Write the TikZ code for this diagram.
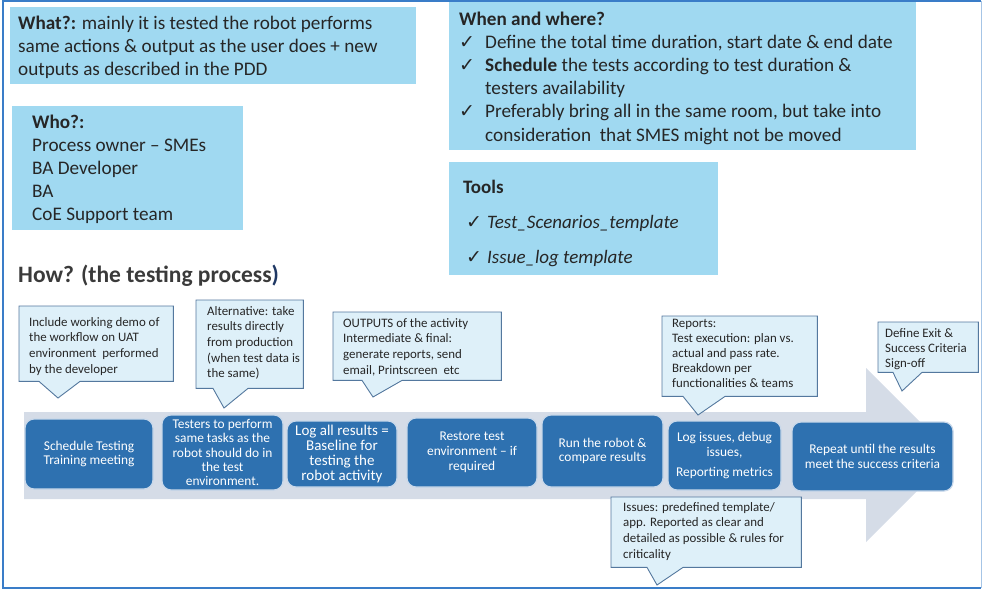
\documentclass[tikz,border=0pt]{standalone}
\usepackage{fontspec}
\setmainfont{Carlito}
\newfontfamily\symfont{DejaVu Sans}
\usetikzlibrary{calc}

\definecolor{panel}{RGB}{160,217,241}
\definecolor{notefill}{RGB}{222,240,249}
\definecolor{noteline}{RGB}{84,120,158}
\definecolor{stepfill}{RGB}{46,113,176}
\definecolor{stepline}{RGB}{200,216,234}
\definecolor{flow}{RGB}{213,220,231}
\definecolor{framecol}{RGB}{58,125,200}
\definecolor{ink}{RGB}{38,38,38}
\definecolor{titlegray}{RGB}{58,58,58}
\definecolor{navy}{RGB}{31,56,100}

% left-aligned block whose baseline is its first line
\newcommand\rows[1]{\begin{tabular}[t]{@{}l@{}}#1\end{tabular}}
\newcommand\tick[1]{\makebox[#1][l]{\symfont\bfseries\fontsize{19}{19}\selectfont ✓}}
\newcommand\ntsize{\fontsize{12.9}{15.7}\selectfont}
\newcommand\bigsize{\fontsize{19.2}{23}\selectfont}

\begin{document}
\begin{tikzpicture}[x=1pt,y=-1pt,
  panelbox/.style={fill=panel,draw=none,inner sep=0,anchor=north west},
  holder/.style={inner sep=0,anchor=north west},
  txt/.style={inner sep=0,anchor=base west,text=ink},
  stepbox/.style={fill=stepfill,draw=stepline,line width=1.2pt,rounded corners=9pt,
    text=white,align=center,inner sep=2pt,font=\fontsize{13.4}{14.8}\selectfont},
  note/.style={fill=notefill,draw=noteline,line width=0.9pt,line join=miter}]
\useasboundingbox (0,0) rectangle (983,590);

% ---------- top information panels ----------
\node[panelbox,minimum width=406,minimum height=77] (what) at (10,7) {};
\node[txt,font=\bigsize] (whatT) at (18,29)
  {\rows{\textbf{What?:} mainly it is tested the robot performs\\
   same actions \& output as the user does + new\\
   outputs as described in the PDD}};

\node[panelbox,minimum width=231,minimum height=124] (who) at (12,106) {};
\node[txt,font=\bigsize] (whoT) at (32,128)
  {\rows{\textbf{Who?:}\\Process owner – SMEs\\BA Developer\\BA\\CoE Support team}};

\node[panelbox,minimum width=467,minimum height=148] (when) at (449,2) {};
\node[txt,font=\fontsize{19.2}{23.2}\selectfont] (whenT) at (459,25)
  {\rows{\textbf{When and where?}\\
   \tick{26pt}Define the total time duration, start date \& end date\\
   \tick{26pt}\textbf{Schedule} the tests according to test duration \&\\
   \hspace*{26pt}testers availability\\
   \tick{26pt}Preferably bring all in the same room, but take into\\
   \hspace*{26pt}consideration\ \ that SMES might not be moved}};

\node[panelbox,minimum width=269,minimum height=113] (tools) at (449,162) {};
\node[txt,font=\bfseries\fontsize{19}{22}\selectfont] (toolsH) at (463,193) {Tools};
\node[txt,font=\fontsize{19}{35}\selectfont] (toolsL) at (466,228)
  {\rows{\tick{21pt}\textit{Test\_Scenarios\_template}\\
   \tick{21pt}\textit{Issue\_log template}}};

\node[txt,text=titlegray,font=\bfseries\fontsize{23.5}{27}\selectfont] (how) at (18,282)
  {How? (the testing process\textcolor{navy}{)}};

% ---------- process arrow ----------
\fill[flow] (24,412) -- (866,412) -- (866,368) -- (953,455) -- (866,542)
  -- (866,499) -- (24,499) -- cycle;

\node[stepbox,minimum width=128,minimum height=70] (s1) at (89,454)
  {Schedule Testing\\Training meeting};
\node[stepbox,minimum width=121,minimum height=75,font=\fontsize{13.4}{14.3}\selectfont] (s2) at (222.5,452.5)
  {Testers to perform\\same tasks as the\\robot should do in\\the test\\environment.};
\node[stepbox,minimum width=110,minimum height=66,font=\fontsize{15}{15.2}\selectfont] (s3) at (342,454)
  {Log all results =\\Baseline for\\testing the\\robot activity};
\node[stepbox,minimum width=130,minimum height=69] (s4) at (472,452.5)
  {Restore test\\environment – if\\required};
\node[stepbox,minimum width=121,minimum height=72] (s5) at (602.5,451)
  {Run the robot \&\\compare results};
\node[stepbox,minimum width=113,minimum height=69] (s6) at (724.5,455.5)
  {Log issues, debug\\issues,\\[5pt]Reporting metrics};
\node[stepbox,minimum width=161,minimum height=69] (s7) at (872.5,456.5)
  {Repeat until the results\\meet the success criteria};

% ---------- callouts ----------
\node[holder,minimum width=154,minimum height=75] (nA) at (19,306) {};
\coordinate (pA) at (58,398);
\draw[note] (nA.north west) -- (nA.north east) -- (nA.south east)
  -- ([xshift=61pt]nA.south west) -- (pA) -- ([xshift=20pt]nA.south west)
  -- (nA.south west) -- cycle;
\node[txt,font=\ntsize] (tA) at (29,326)
  {\rows{Include working demo of\\the workflow on UAT\\environment\ \ performed\\by the developer}};

\node[holder,minimum width=107,minimum height=88] (nB) at (196,300) {};
\coordinate (pB) at (224,408);
\draw[note] (nB.north west) -- (nB.north east) -- (nB.south east)
  -- ([xshift=52pt]nB.south west) -- (pB) -- ([xshift=17pt]nB.south west)
  -- (nB.south west) -- cycle;
\node[txt,font=\ntsize] (tB) at (207,315)
  {\rows{Alternative: take\\results directly\\from production\\(when test data is\\the same)}};

\node[holder,minimum width=168,minimum height=68] (nC) at (333,312) {};
\coordinate (pC) at (373,397);
\draw[note] (nC.north west) -- (nC.north east) -- (nC.south east)
  -- ([xshift=69pt]nC.south west) -- (pC) -- ([xshift=29pt]nC.south west)
  -- (nC.south west) -- cycle;
\node[txt,font=\ntsize] (tC) at (343,327)
  {\rows{OUTPUTS of the activity\\Intermediate \& final:\\generate reports, send\\email, Printscreen\ \ etc}};

\node[holder,minimum width=155,minimum height=80] (nD) at (662,316) {};
\coordinate (pD) at (698,415);
\draw[note] (nD.north west) -- (nD.north east) -- (nD.south east)
  -- ([xshift=63pt]nD.south west) -- (pD) -- ([xshift=21pt]nD.south west)
  -- (nD.south west) -- cycle;
\node[txt,font=\fontsize{12.9}{15}\selectfont] (tD) at (672,327)
  {\rows{Reports:\\Test execution: plan vs.\\actual and pass rate.\\Breakdown per\\functionalities \& teams}};

\node[holder,minimum width=100,minimum height=50] (nE) at (878,322) {};
\coordinate (pE) at (902,391);
\draw[note] (nE.north west) -- (nE.north east) -- (nE.south east)
  -- ([xshift=44pt]nE.south west) -- (pE) -- ([xshift=15pt]nE.south west)
  -- (nE.south west) -- cycle;
\node[txt,font=\fontsize{12.9}{15}\selectfont] (tE) at (885,337)
  {\rows{Define Exit \&\\Success Criteria\\Sign-off}};

\node[holder,minimum width=190,minimum height=70] (nF) at (611,497) {};
\coordinate (pF) at (657,585);
\draw[note] (nF.north west) -- (nF.north east) -- (nF.south east)
  -- ([xshift=72pt]nF.south west) -- (pF) -- ([xshift=36pt]nF.south west)
  -- (nF.south west) -- cycle;
\node[txt,font=\ntsize] (tF) at (623,511)
  {\rows{Issues: predefined template/\\app. Reported as clear and\\detailed as possible \& rules for\\criticality}};

% ---------- outer frame ----------
\draw[framecol,line width=2.2pt] (981,1) -- (3,1) -- (3,588) -- (981,588);
\draw[framecol!45,line width=1pt] (981,1) -- (981,588);
\end{tikzpicture}
\end{document}
